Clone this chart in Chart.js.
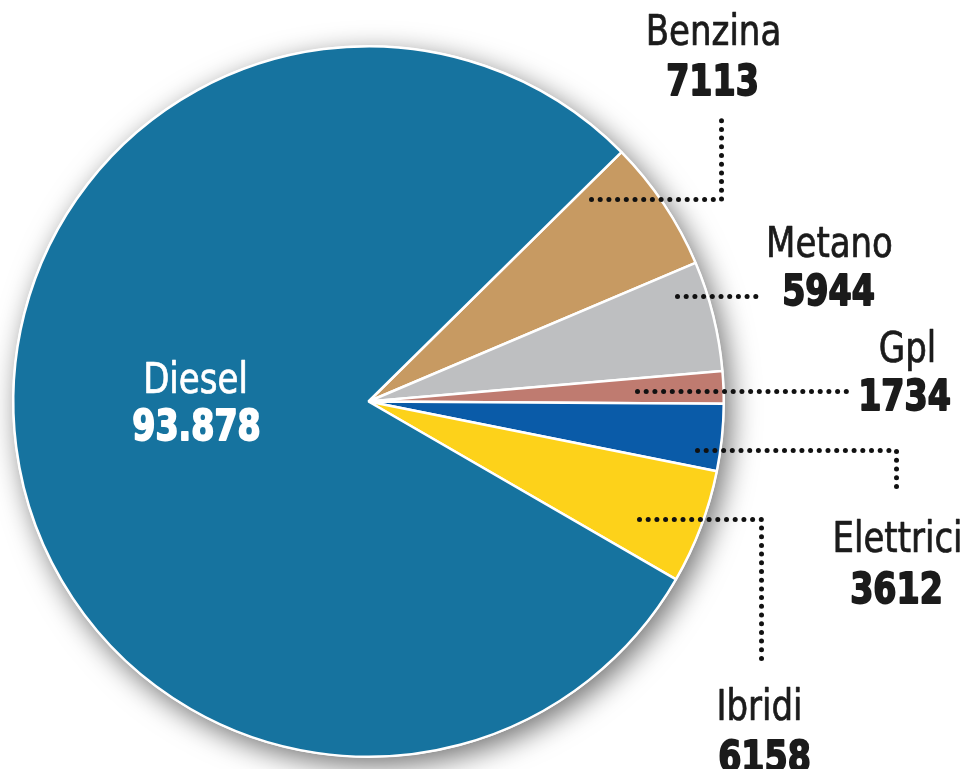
<!DOCTYPE html>
<html>
<head>
<meta charset="utf-8">
<script src="https://cdn.jsdelivr.net/npm/chart.js@4.4.1/dist/chart.umd.min.js"></script>
<style>
  html, body { margin: 0; padding: 0; background: #fff; }
  #wrap { width: 968px; height: 769px; position: relative; }
</style>
</head>
<body>
<div id="wrap"><canvas id="pie"></canvas></div>
<script>
// data
const categories = ['Benzina', 'Metano', 'Gpl', 'Elettrici', 'Ibridi', 'Diesel'];
const vehicles = [7113, 5944, 1734, 3612, 6158, 93878];
const sliceColors = ['#c79a62', '#bebfc1', '#bf7b70', '#0a5ba8', '#fdd21a', '#16739f'];

// callout layout, offsets in px from the pie centre
// line: polyline of the dotted leader; name/value: [centreX, baseline]
const callouts = {
  Benzina:   { line: [[223, -202], [353, -202], [353, -285]], name: [345, -357], value: [344, -307] },
  Metano:    { line: [[309, -105], [394, -105]], name: [461, -145], value: [460, -97] },
  Gpl:       { line: [[269, -10], [478, -10]], name: [539, -40], value: [536, 8] },
  Elettrici: { line: [[329, 49], [528, 49], [528, 93]], name: [529, 150], value: [528, 201] },
  Ibridi:    { line: [[271, 118], [393, 118], [393, 258]], name: [391, 318], value: [396, 369] },
  Diesel:    { line: [], name: [-173, -9], value: [-172, 38], color: '#ffffff' }
};

const FONT = '"Liberation Sans Narrow", "DejaVu Sans Condensed", sans-serif';

function fmt(n) {
  // thousand separator only for 5+ digits, as in the source
  const s = String(n);
  return n >= 10000 ? s.replace(/\B(?=(\d{3})+(?!\d))/g, '.') : s;
}

// squeeze text horizontally to get the condensed look
function drawText(ctx, txt, x, y, sx, stroke) {
  ctx.save();
  ctx.translate(x, y);
  ctx.scale(sx, 1);
  if (stroke) ctx.strokeText(txt, 0, 0);
  ctx.fillText(txt, 0, 0);
  ctx.restore();
}

function dottedPath(ctx, pts, gap, r) {
  let carry = 0;
  for (let k = 1; k < pts.length; k++) {
    const [x0, y0] = pts[k - 1], [x1, y1] = pts[k];
    const len = Math.hypot(x1 - x0, y1 - y0);
    for (let d = carry; d <= len + 0.01; d += gap) {
      const t = d / len;
      ctx.beginPath();
      ctx.arc(x0 + (x1 - x0) * t, y0 + (y1 - y0) * t, r, 0, Math.PI * 2);
      ctx.fill();
      carry = d + gap - len;
    }
  }
}

const pieShadow = {
  id: 'pieShadow',
  beforeDatasetsDraw(chart) {
    const arc = chart.getDatasetMeta(0).data[0];
    if (!arc) return;
    const { x, y, outerRadius } = arc.getProps(['x', 'y', 'outerRadius'], true);
    const ctx = chart.ctx;
    ctx.save();
    ctx.shadowColor = 'rgba(0,0,0,0.55)';
    ctx.shadowBlur = 28;
    ctx.shadowOffsetX = 6;
    ctx.shadowOffsetY = 8;
    ctx.beginPath();
    ctx.arc(x, y, outerRadius + 1, 0, Math.PI * 2);
    ctx.fillStyle = '#ffffff';
    ctx.fill();
    ctx.restore();
  }
};

const calloutLabels = {
  id: 'calloutLabels',
  afterDatasetsDraw(chart) {
    const ctx = chart.ctx;
    const meta = chart.getDatasetMeta(0);
    const cx = meta.data[0].x, cy = meta.data[0].y;
    ctx.save();
    categories.forEach((cat, i) => {
      const c = callouts[cat];
      if (!c) return;
      if (c.line.length) {
        ctx.fillStyle = '#111111';
        dottedPath(ctx, c.line.map(p => [cx + p[0], cy + p[1]]), 8.7, 2.5);
      }
      const col = c.color || '#1b1b1b';
      ctx.fillStyle = col;
      ctx.strokeStyle = col;
      ctx.textAlign = 'center';
      ctx.textBaseline = 'alphabetic';
      ctx.lineJoin = 'round';
      ctx.font = '42px ' + FONT;
      ctx.lineWidth = 0.7;
      drawText(ctx, cat, cx + c.name[0], cy + c.name[1], 0.9, true);
      ctx.font = 'bold 42px ' + FONT;
      ctx.lineWidth = 1.8;
      drawText(ctx, fmt(vehicles[i]), cx + c.value[0], cy + c.value[1], 0.88, true);
    });
    ctx.restore();
  }
};

new Chart(document.getElementById('pie'), {
  type: 'pie',
  data: {
    labels: categories,
    datasets: [{
      data: vehicles,
      backgroundColor: sliceColors,
      borderColor: '#ffffff',
      borderWidth: 2.5
    }]
  },
  options: {
    responsive: true,
    maintainAspectRatio: false,
    animation: false,
    rotation: 45.4,
    layout: { padding: { left: 12, top: 45, right: 243, bottom: 11 } },
    plugins: {
      legend: { display: false },
      tooltip: { enabled: false }
    }
  },
  plugins: [pieShadow, calloutLabels]
});
</script>
</body>
</html>
